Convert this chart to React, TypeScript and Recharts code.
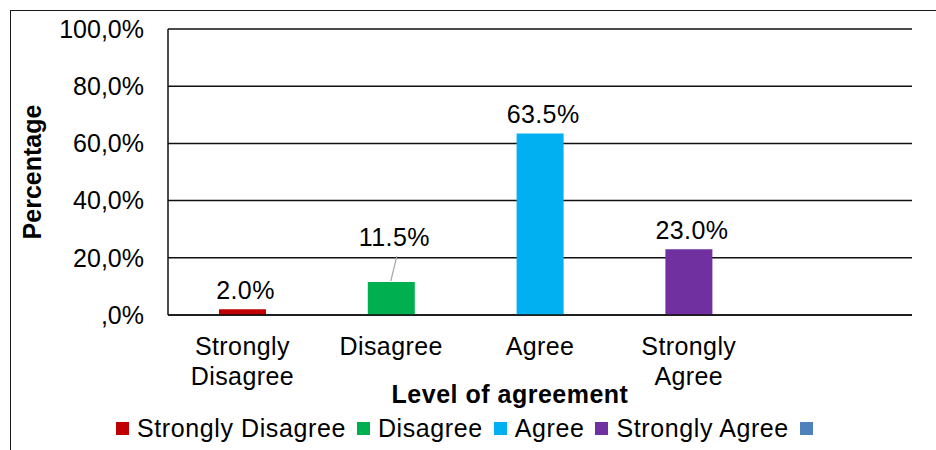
import { BarChart, Bar, XAxis, YAxis, CartesianGrid, Cell, LabelList, Label } from 'recharts';

const categories = ['Strongly Disagree', 'Disagree', 'Agree', 'Strongly Agree', ''];
const percentages = [2.0, 11.5, 63.5, 23.0, null];
const colors = ['#C00000', '#00B050', '#00B0F0', '#7030A0', '#4F81BD'];
const yTicks = [0, 20, 40, 60, 80, 100];

const FONT = '"Liberation Sans", Arial, sans-serif';
const LEADER_INDEX = 1; // label Excel pulled up, with a leader line

const data = categories.map((name, i) => ({ name, value: percentages[i] }));

const fmtTick = (v: number) => `${v.toFixed(1).replace('.', ',').replace(/^0/, '')}%`;

const CategoryTick = ({ x, y, payload }: any) => {
  const v: string = payload.value;
  if (!v) return null;
  const lines = v.startsWith('Strongly ') ? ['Strongly', v.slice(9)] : [v];
  return (
    <text x={x} y={y + 40} textAnchor="middle" fontSize={25} fontFamily={FONT} fill="#000" letterSpacing={0.4}>
      {lines.map((l, i) => (
        <tspan key={l} x={x} dy={i === 0 ? 0 : 30}>{l}</tspan>
      ))}
    </text>
  );
};

const ValueLabel = (props: any) => {
  const { x, y, width, value, index } = props;
  if (value == null) return null;
  const cx = x + width / 2;
  const lifted = index === LEADER_INDEX;
  return (
    <g>
      {lifted && <line x1={cx + 5.5} y1={y - 26} x2={cx - 0.5} y2={y - 1} stroke="#A6A6A6" strokeWidth={1.2} />}
      <text x={cx + 3} y={y - (lifted ? 36 : 10)} textAnchor="middle" fontSize={25} fontFamily={FONT} fill="#000" letterSpacing={0.4}>
        {`${Number(value).toFixed(1)}%`}
      </text>
    </g>
  );
};

const YTitle = ({ viewBox }: any) => (
  <text
    transform={`translate(41, ${viewBox.y + viewBox.height / 2}) rotate(-90)`}
    textAnchor="middle"
    fontSize={25}
    fontWeight="bold"
    fontFamily={FONT}
    fill="#000"
  >
    Percentage
  </text>
);

export default function App() {
  return (
    <div style={{ position: 'absolute', left: 0, top: 0, width: 936, height: 450, overflow: 'hidden', background: '#fff', fontFamily: FONT }}>
      <div style={{ position: 'absolute', left: 10, top: 10, right: 0, bottom: 0, borderLeft: '1.5px solid #1a1a1a', borderTop: '1.5px solid #1a1a1a' }} />
      <BarChart width={936} height={450} data={data} margin={{ top: 29, right: 24, bottom: 0, left: 0 }}>
        <CartesianGrid vertical={false} stroke="#111" strokeWidth={1.5} />
        <XAxis
          dataKey="name"
          height={135}
          tickLine={false}
          tickSize={0}
          tickMargin={0}
          axisLine={{ stroke: '#111', strokeWidth: 1.5 }}
          tick={<CategoryTick />}
          interval={0}
        >
          <Label value="Level of agreement" position="insideBottom" offset={47} dx={-30} fontSize={25} fontWeight="bold" fontFamily={FONT} fill="#000" letterSpacing={0.5} />
        </XAxis>
        <YAxis
          width={168}
          domain={[0, 100]}
          ticks={yTicks}
          tickFormatter={fmtTick}
          tickLine={false}
          tickSize={0}
          tickMargin={24}
          axisLine={{ stroke: '#111', strokeWidth: 1.5 }}
          tick={{ fontSize: 25, fill: '#000', fontFamily: FONT }}
        >
          <Label content={<YTitle />} />
        </YAxis>
        <Bar dataKey="value" barSize={47} isAnimationActive={false}>
          {data.map((d, i) => (
            <Cell key={`c-${i}`} fill={colors[i]} />
          ))}
          <LabelList dataKey="value" content={<ValueLabel />} />
        </Bar>
      </BarChart>
      <div style={{ position: 'absolute', left: 116, top: 414, display: 'flex', alignItems: 'center', fontSize: 25, lineHeight: '28px', color: '#000', letterSpacing: 0.6, whiteSpace: 'nowrap' }}>
        {categories.map((c, i) => (
          <div key={`l-${i}`} style={{ display: 'flex', alignItems: 'center', marginRight: i < categories.length - 1 ? 11 : 0 }}>
            <span style={{ width: 13, height: 13, background: colors[i], display: 'inline-block', marginRight: c ? 8 : 0 }} />
            {c && <span>{c}</span>}
          </div>
        ))}
      </div>
    </div>
  );
}
